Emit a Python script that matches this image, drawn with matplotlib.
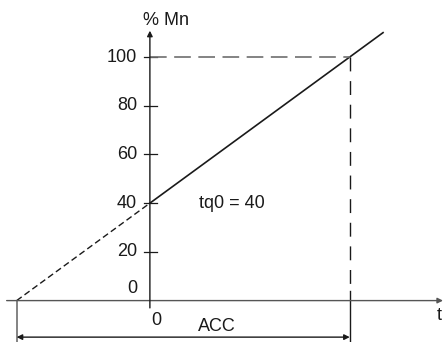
import matplotlib.pyplot as plt

plt.rcParams['font.family'] = ['Liberation Sans', 'DejaVu Sans']

# torque (% Mn) against time, ramp from tq0 to 100 % over ACC
y_ticks = [20, 40, 60, 80, 100]
y_tick_labels = ['20', '40', '60', '80', '100']
tq0 = 40
acc = 60
solid_t = [0, 70]
solid_y = [40, 110]
dashed_t = [-40, 0]
dashed_y = [0, 40]

fig = plt.figure(figsize=(4.45, 3.42), dpi=100)
ax = fig.add_axes([0, 0, 1, 1])
ax.set_xlim(-45.0, 88.6)
ax.set_ylim(-17.0, 123.4)
ax.axis('off')

fs = 13
dark = '#1a1a1a'
grey = '#6e6e6e'

# axes with arrows
ax.annotate('', xy=(88.0, 0), xytext=(-43.0, 0),
            arrowprops=dict(arrowstyle='-|>', color='#555555', lw=1.0,
                            mutation_scale=8, shrinkA=0, shrinkB=0))
ax.annotate('', xy=(0, 110.8), xytext=(0, -3.0),
            arrowprops=dict(arrowstyle='-|>', color=dark, lw=1.0,
                            mutation_scale=8, shrinkA=0, shrinkB=0))

# y ticks and labels
for v, lab in zip(y_ticks, y_tick_labels):
    ax.plot([-1.8, 2.0], [v, v], color=dark, lw=0.9)
    ax.text(-3.9, v, lab, ha='right', va='center', fontsize=fs, color=dark)
ax.text(-3.9, 4.9, '0', ha='right', va='center', fontsize=fs, color=dark)
ax.text(1.8, -8.0, '0', ha='center', va='center', fontsize=fs, color=dark)
ax.text(87.0, -6.0, 't', ha='center', va='center', fontsize=fs, color=dark)
ax.text(4.8, 115.1, '% Mn', ha='center', va='center', fontsize=fs, color=dark)

# ramp
ax.plot(solid_t, solid_y, color=dark, lw=1.2)
ax.plot(dashed_t, dashed_y, color=dark, lw=1.0, ls=(0, (4.5, 2.5)))

# reference lines at 100 % and end of ACC
ax.plot([0, acc], [100, 100], color=grey, lw=1.2, ls=(0, (10, 4.5)))
ax.plot([acc, acc], [100, 4.0], color=dark, lw=1.0, ls=(0, (10, 7)))
ax.plot([acc, acc], [4.0, -17.0], color=dark, lw=1.0)
ax.plot([dashed_t[0], dashed_t[0]], [0, -17.0], color=grey, lw=1.2)

ax.text(14.7, tq0, 'tq0 = 40', ha='left', va='center', fontsize=fs, color=dark)

# ACC dimension
ax.annotate('', xy=(dashed_t[0], -15.0), xytext=(acc, -15.0),
            arrowprops=dict(arrowstyle='<|-|>', color=dark, lw=1.0,
                            mutation_scale=8, shrinkA=0, shrinkB=0))
ax.text(20.2, -10.5, 'ACC', ha='center', va='center', fontsize=fs, color=dark)

fig.savefig('out.png', dpi=100)
